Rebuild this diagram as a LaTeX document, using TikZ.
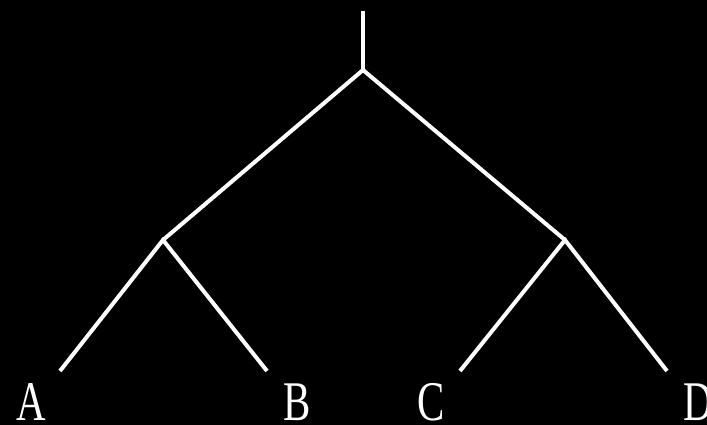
\documentclass[tikz,border=0pt]{standalone}
\usepackage{fontspec}
\setmainfont{Liberation Serif}
\usepackage{xcolor}
\usepackage{tikz}
\usetikzlibrary{positioning}

\begin{document}
\begin{tikzpicture}[
    x=1pt, y=-1pt,
    branch/.style={draw=white, line width=4pt},
    leaflabel/.style={text=white, anchor=base, inner sep=0pt, font=\fontsize{56}{56}\selectfont}
]
    % Background
    \fill[black] (0,0) rectangle (707,425);
    \useasboundingbox (0,0) rectangle (707,425);

    % Nodes
    \coordinate (top) at (363,11);
    \coordinate (root) at (363,70);
    \coordinate (left) at (163,240);
    \coordinate (right) at (565,240);
    \coordinate (a) at (60,371);
    \coordinate (b) at (267,371);
    \coordinate (c) at (460,371);
    \coordinate (d) at (667,371);

    % Labels
    \node (labA) [leaflabel] at (31,420) {\scalebox{0.73}[1]{A}};
    \node (labB) [leaflabel] at (297,420) {\scalebox{0.73}[1]{B}};
    \node (labC) [leaflabel] at (431,420) {\scalebox{0.73}[1]{C}};
    \node (labD) [leaflabel] at (698,420) {\scalebox{0.73}[1]{D}};

    % Branches
    \draw [branch] (top) -- (root);
    \draw [branch] (left) -- (root) -- (right);
    \draw [branch] (a) -- (left) -- (b);
    \draw [branch] (c) -- (right) -- (d);

\end{tikzpicture}
\end{document}
